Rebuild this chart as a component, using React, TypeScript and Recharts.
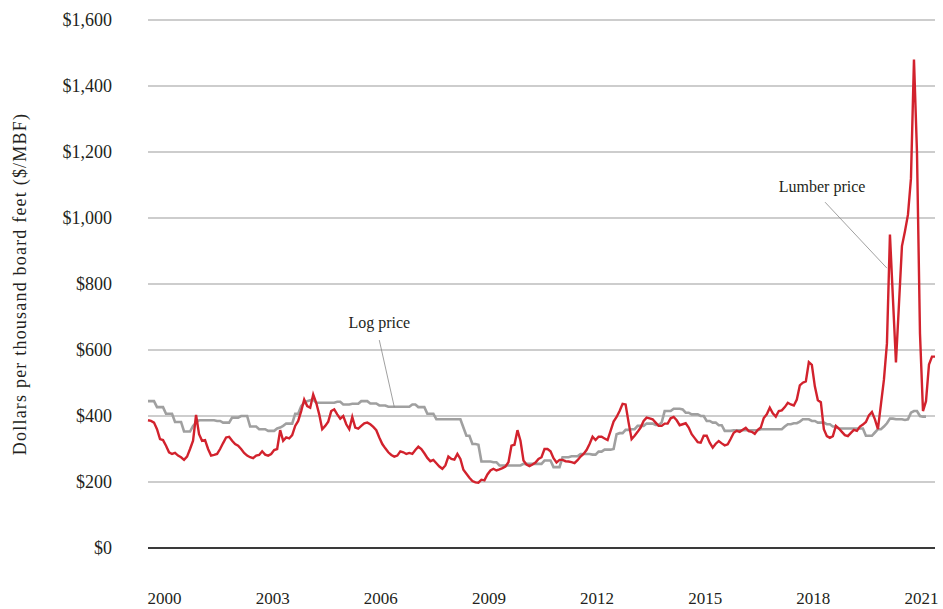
import { LineChart, Line, XAxis, YAxis, CartesianGrid, ReferenceLine, ReferenceDot } from 'recharts';

// monthly prices, Jan 2000 onward ($/MBF)
const lumberPrice = [
  387, 385, 380, 360, 330, 327, 310, 290, 285, 288, 280, 275, // 2000
  267, 277, 300, 325, 403, 345, 325, 327, 300, 280, 282, 285, // 2001
  300, 318, 335, 337, 325, 315, 310, 300, 288, 280, 275, 272, // 2002
  280, 282, 293, 283, 280, 285, 297, 300, 357, 325, 335, 332, // 2003
  342, 370, 385, 415, 450, 430, 425, 465, 440, 405, 360, 370, // 2004
  383, 415, 420, 405, 392, 400, 375, 360, 397, 365, 362, 370, // 2005
  378, 380, 375, 367, 357, 335, 315, 302, 290, 282, 277, 280, // 2006
  293, 290, 285, 288, 285, 297, 307, 300, 287, 273, 263, 267, // 2007
  257, 247, 240, 250, 277, 270, 268, 285, 270, 237, 225, 213, // 2008
  203, 199, 198, 207, 205, 223, 235, 240, 235, 238, 242, 247, // 2009
  260, 310, 313, 357, 325, 265, 253, 248, 253, 259, 270, 275, // 2010
  300, 300, 293, 272, 259, 267, 267, 263, 262, 260, 257, 266, // 2011
  277, 285, 297, 315, 337, 327, 337, 337, 332, 327, 355, 383, // 2012
  397, 415, 437, 435, 380, 330, 340, 352, 365, 385, 395, 393, // 2013
  390, 380, 370, 370, 377, 377, 393, 397, 387, 372, 375, 378, // 2014
  365, 345, 333, 321, 319, 340, 340, 319, 304, 316, 324, 317, // 2015
  311, 314, 331, 349, 355, 352, 358, 364, 354, 352, 346, 358, // 2016
  365, 394, 405, 425, 408, 398, 415, 417, 427, 440, 435, 432, // 2017
  450, 493, 501, 505, 563, 555, 490, 448, 442, 360, 339, 334, // 2018
  339, 370, 362, 352, 342, 339, 349, 358, 355, 368, 374, 382, // 2019
  402, 412, 390, 360, 435, 510, 620, 950, 755, 562, 738, 915, // 2020
  960, 1010, 1120, 1480, 1200, 650, 415, 445, 556, 580, 580, // 2021
];

const logPrice = [
  445, 445, 445, 427, 427, 427, 407, 407, 407, 382, 382, 382, // 2000
  353, 353, 353, 370, 380, 387, 387, 387, 387, 387, 387, 385, // 2001
  385, 380, 380, 380, 395, 395, 395, 400, 400, 400, 368, 368, // 2002
  368, 360, 360, 360, 355, 355, 355, 362, 365, 370, 377, 377, // 2003
  377, 407, 407, 430, 440, 445, 448, 450, 440, 440, 440, 440, // 2004
  440, 440, 440, 443, 443, 435, 435, 435, 437, 437, 437, 445, // 2005
  445, 445, 438, 438, 438, 432, 432, 432, 428, 428, 428, 428, // 2006
  428, 428, 428, 428, 435, 435, 427, 427, 427, 407, 407, 407, // 2007
  390, 390, 390, 390, 390, 390, 390, 390, 390, 365, 340, 340, // 2008
  315, 315, 313, 262, 262, 262, 262, 260, 260, 250, 250, 250, // 2009
  250, 250, 250, 250, 250, 255, 255, 255, 255, 255, 255, 255, // 2010
  265, 265, 265, 245, 245, 245, 275, 275, 275, 278, 278, 278, // 2011
  285, 285, 285, 285, 283, 283, 292, 292, 298, 298, 298, 300, // 2012
  345, 348, 348, 358, 358, 360, 360, 370, 370, 370, 377, 377, // 2013
  377, 373, 373, 380, 415, 415, 415, 422, 422, 422, 420, 410, // 2014
  410, 405, 405, 405, 400, 400, 385, 385, 380, 380, 372, 372, // 2015
  355, 355, 355, 357, 357, 357, 357, 357, 357, 357, 357, 357, // 2016
  360, 360, 360, 360, 360, 360, 360, 360, 368, 375, 375, 378, // 2017
  378, 383, 390, 390, 390, 385, 385, 380, 380, 380, 375, 375, // 2018
  368, 368, 362, 362, 362, 362, 362, 362, 362, 362, 362, 340, // 2019
  340, 340, 350, 360, 360, 368, 378, 392, 392, 390, 390, 390, // 2020
  388, 390, 410, 415, 415, 400, 398, 398, // 2021
];

const yTicks = [0, 200, 400, 600, 800, 1000, 1200, 1400, 1600];
const xTickYears = [2000, 2003, 2006, 2009, 2012, 2015, 2018, 2021];

const data = lumberPrice.map((v, i) => ({
  m: i,
  lumber: v,
  log: i < logPrice.length ? logPrice[i] : null,
}));

// labels sit mid-year
const xTicks = xTickYears.map((y) => (y - 2000) * 12 + 5.5);

const FONT = 'Liberation Serif';
const TEXT = '#231f20';
const textStyle = { fontFamily: FONT };

export default function App() {
  return (
    <div style={{ position: 'absolute', left: 0, top: 0, fontFamily: FONT }}>
      <LineChart
        width={943}
        height={609}
        data={data}
        margin={{ top: 20, right: 8, bottom: 0, left: 0 }}
        style={textStyle}
      >
        <CartesianGrid vertical={false} stroke="#bdbdbd" strokeWidth={1.3} />
        <XAxis
          dataKey="m"
          type="number"
          domain={[0, 262]}
          ticks={xTicks}
          tickFormatter={(v) => String(xTickYears[xTicks.indexOf(v)])}
          height={61}
          tickSize={0}
          tickMargin={44}
          axisLine={{ stroke: '#3a3a3a', strokeWidth: 2 }}
          tick={{ fill: TEXT, fontSize: 17, style: textStyle }}
        />
        <YAxis
          width={148}
          domain={[0, 1600]}
          ticks={yTicks}
          tickFormatter={(v) => '$' + v.toLocaleString('en-US')}
          axisLine={false}
          tickSize={0}
          tickMargin={36}
          tick={{ fill: TEXT, fontSize: 18, style: textStyle }}
          label={({ viewBox }: any) => (
            <text
              transform={`translate(${viewBox.x + 20},${viewBox.y + viewBox.height / 2}) rotate(-90)`}
              textAnchor="middle"
              dominantBaseline="central"
              fill={TEXT}
              fontSize={18}
              letterSpacing={1.2}
              style={textStyle}
            >
              Dollars per thousand board feet ($/MBF)
            </text>
          )}
        />
        <Line dataKey="log" stroke="#a0a0a0" strokeWidth={2.6} dot={false} isAnimationActive={false} />
        <Line dataKey="lumber" stroke="#d2222d" strokeWidth={2.4} dot={false} isAnimationActive={false} />
        <ReferenceLine segment={[{ x: 77, y: 630 }, { x: 82, y: 427 }]} stroke="#888" strokeWidth={0.8} />
        <ReferenceLine segment={[{ x: 225.4, y: 1048 }, { x: 246, y: 848 }]} stroke="#888" strokeWidth={0.8} />
        <ReferenceDot
          x={77}
          y={685}
          r={0}
          fill="none"
          stroke="none"
          label={{ value: 'Log price', position: 'center', fill: TEXT, fontSize: 16, style: textStyle }}
        />
        <ReferenceDot
          x={224.4}
          y={1097}
          r={0}
          fill="none"
          stroke="none"
          label={{ value: 'Lumber price', position: 'center', fill: TEXT, fontSize: 16, style: textStyle }}
        />
      </LineChart>
    </div>
  );
}
